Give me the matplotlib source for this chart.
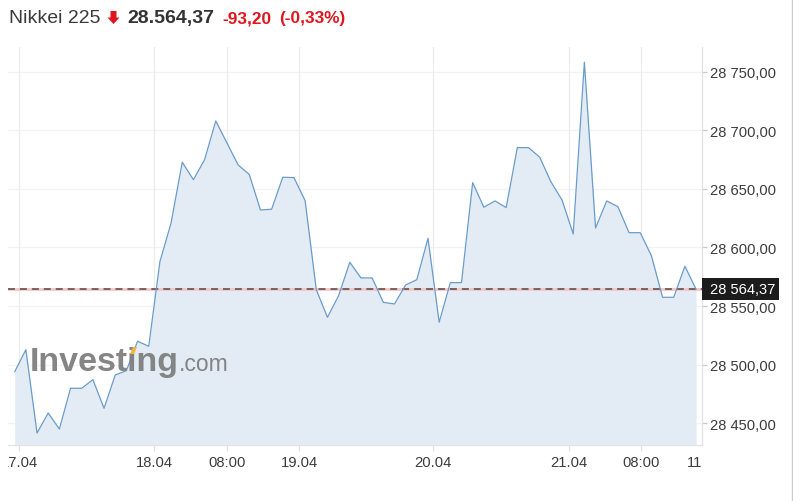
import numpy as np
import matplotlib
matplotlib.use("Agg")
import matplotlib.pyplot as plt
import matplotlib.transforms as mtransforms
from matplotlib.patches import Polygon, Rectangle
from matplotlib.lines import Line2D

plt.rcParams['font.family'] = ['Liberation Sans', 'DejaVu Sans']
plt.rcParams['lines.scale_dashes'] = False

W, H = 793, 502

# Nikkei 225, half-hour closes 17.04 -> 21.04
close = [28494.0, 28512.8, 28441.7, 28458.8, 28445.1, 28479.9, 28479.9,
         28487.2, 28462.8, 28491.2, 28494.9, 28520.0, 28515.7, 28587.9,
         28620.9, 28672.7, 28657.8, 28674.9, 28707.9, 28689.2, 28670.4,
         28662.3, 28632.0, 28632.6, 28659.9, 28659.6, 28639.9, 28564.0,
         28540.4, 28558.9, 28587.4, 28574.0, 28574.0, 28553.2, 28551.8,
         28568.0, 28572.5, 28607.8, 28536.2, 28570.0, 28570.0, 28655.3,
         28634.3, 28639.7, 28634.0, 28685.2, 28685.2, 28677.0, 28656.1,
         28640.5, 28611.5, 28758.0, 28616.6, 28639.7, 28634.8, 28612.6,
         28612.6, 28593.0, 28557.5, 28557.5, 28584.0, 28564.37]
last_price = 28564.37
change_abs = -93.20
change_pct = -0.33
name = "Nikkei 225"

y_ticks = [28450, 28500, 28550, 28600, 28650, 28700, 28750]
x_labels = ['17.04', '18.04', '08:00', '19.04', '20.04', '21.04', '08:00', '11:00']
x_label_pos = [0.41, 12.5, 19.0, 25.45, 37.47, 49.58, 56.04, 61.8]

y_min, y_max = 28431.5, 28771.0
x_min, x_max = -0.6, 61.53


def fmt_axis(v):
    return f"{v:,.2f}".replace(',', ' ').replace('.', ',')


def fmt_head(v):
    return f"{v:,.2f}".replace(',', 'X').replace('.', ',').replace('X', '.')


def px(x, y):
    # pixel (from top-left) -> figure fraction
    return (x / W, 1 - y / H)


fig = plt.figure(figsize=(W / 100, H / 100), dpi=100)
fig.patch.set_facecolor('white')
ax = fig.add_axes([8 / W, 1 - 446 / H, 694 / W, 398 / H])

x = np.arange(len(close))
ax.fill_between(x, close, y_min, color='#e3ecf5', lw=0, zorder=1)
ax.plot(x, close, color='#6a9cc9', lw=0.9, zorder=4)

ax.set_xlim(x_min, x_max)
ax.set_ylim(y_min, y_max)

# grid
for yv in y_ticks:
    ax.axhline(yv, color='#f2f2f2', lw=0.9, zorder=0.5)
ax.set_axisbelow(True)
in_range = [p for p in x_label_pos if x_min <= p <= x_max]
ax.set_xticks(in_range)
ax.set_xticklabels([])
ax.xaxis.grid(True, color='#ebebeb', lw=0.9)
ax.tick_params(axis='x', length=4, color='#e0e0e0', width=0.9)

ax.yaxis.tick_right()
ax.set_yticks(y_ticks)
ax.set_yticklabels([fmt_axis(v) for v in y_ticks])
ax.tick_params(axis='y', length=3.6, width=0.9, color='#c8c8c8', pad=2.2,
               labelsize=10.6, labelcolor='#3c3c3c')

for s in ['left', 'top']:
    ax.spines[s].set_visible(False)
for s in ['bottom', 'right']:
    ax.spines[s].set_color('#e2e2e2')
    ax.spines[s].set_linewidth(0.9)

# x labels, clipped to the plot's horizontal extent
blend = mtransforms.blended_transform_factory(ax.transData, ax.transAxes)
clip = mtransforms.TransformedBbox(mtransforms.Bbox([[0, -0.3], [1, 1]]),
                                   ax.transAxes)
for lab, pos in zip(x_labels, x_label_pos):
    t = ax.text(pos, -0.042, lab, transform=blend, ha='center', va='center',
                fontsize=10.6, color='#3c3c3c')
    t.set_clip_path(None)
    t.set_clip_box(clip)
    t.set_clip_on(True)

# current price line
ax.axhline(last_price, color='#f3c6c6', lw=2.0, zorder=3)
ax.axhline(last_price, color='#6e5b5b', lw=1.3, dashes=(5, 3.6), zorder=3.1)

# price box at the right axis
anchor = mtransforms.ScaledTranslation(
    1.0, last_price,
    mtransforms.blended_transform_factory(ax.transAxes, ax.transData))
box_tr = mtransforms.Affine2D().translate(0, -11) + anchor
ax.add_patch(Rectangle((0, 0), 77, 22, transform=box_tr, fc='#1c1c1c',
                       ec='none', clip_on=False, zorder=6))
ax.text(7.5, 11, fmt_axis(last_price), transform=box_tr, ha='left',
        va='center', color='white', fontsize=10.6, zorder=7, clip_on=False)

# watermark
wm = ax.text(0.0317, 0.188, "Investing", transform=ax.transAxes,
             fontsize=24.5, fontweight='bold', color='#7b7b7b', alpha=0.92,
             va='baseline', ha='left', zorder=5)
fig.canvas.draw()
bb = wm.get_window_extent()
base_y = ax.transAxes.transform((0, 0.188))[1]
fig.text(bb.x1 / W, base_y / H, ".com", fontsize=16.5, color='#7b7b7b',
         alpha=0.92, va='baseline', ha='left', zorder=5)
fig.add_artist(Polygon([px(130, 355), px(133, 348), px(137, 348), px(134, 355)],
                       closed=True, transform=fig.transFigure,
                       fc='#f2b640', ec='none', zorder=6))

# header
hy = 1 - 18.5 / H
fig.text(9 / W, hy, name, fontsize=14, color='#3a3a3a', va='center', ha='left')
arrow = [px(110.5, 12), px(116.5, 12), px(116.5, 18.5), px(119.5, 18.5),
         px(113.5, 25), px(107.5, 18.5), px(110.5, 18.5)]
fig.add_artist(Polygon(arrow, closed=True, transform=fig.transFigure,
                       fc='#e0161e', ec='none'))
fig.text(127 / W, hy, fmt_head(last_price), fontsize=14, fontweight='bold',
         color='#333333', va='center', ha='left')
fig.text(222.5 / W, hy, f"{change_abs:.2f}".replace('.', ','), fontsize=12.4,
         fontweight='bold', color='#e0161e', va='center', ha='left')
fig.text(279 / W, hy, f"({change_pct:.2f}%)".replace('.', ','), fontsize=12.4,
         fontweight='bold', color='#e0161e', va='center', ha='left')

# card border on the right
fig.add_artist(Line2D([792.3 / W, 792.3 / W], [0, 1], transform=fig.transFigure,
                      color='#cccccc', lw=1.0))

fig.savefig('out.png', dpi=100)
